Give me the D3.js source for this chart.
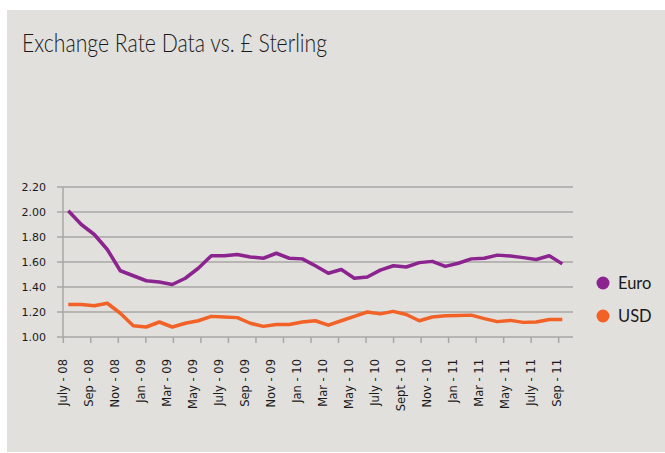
<!DOCTYPE html>
<html>
<head>
<meta charset="utf-8">
<script src="https://cdn.jsdelivr.net/npm/d3@7"></script>
<style>
  body { margin: 0; background: #ffffff; }
  svg { display: block; }
</style>
</head>
<body>
<div id="chart"></div>
<script>
// month labels, every other month is shown on the axis
var months = [
  "July - 08", "Aug - 08", "Sep - 08", "Oct - 08", "Nov - 08", "Dec - 08",
  "Jan - 09", "Feb - 09", "Mar - 09", "Apr - 09", "May - 09", "June - 09",
  "July - 09", "Aug - 09", "Sep - 09", "Oct - 09", "Nov - 09", "Dec - 09",
  "Jan - 10", "Feb - 10", "Mar - 10", "Apr - 10", "May - 10", "June - 10",
  "July - 10", "Aug - 10", "Sept - 10", "Oct - 10", "Nov - 10", "Dec - 10",
  "Jan - 11", "Feb - 11", "Mar - 11", "Apr - 11", "May - 11", "June - 11",
  "July - 11", "Aug - 11", "Sep - 11"
];

var euro = [
  2.01, 1.90, 1.82, 1.70, 1.53, 1.49, 1.45, 1.44, 1.42, 1.47,
  1.55, 1.65, 1.65, 1.66, 1.64, 1.63, 1.67, 1.63, 1.625, 1.57,
  1.51, 1.54, 1.47, 1.48, 1.535, 1.57, 1.56, 1.595, 1.605, 1.565,
  1.59, 1.625, 1.63, 1.655, 1.648, 1.635, 1.62, 1.65, 1.585
];

var usd = [
  1.26, 1.26, 1.25, 1.27, 1.19, 1.09, 1.08, 1.12, 1.08, 1.11,
  1.13, 1.165, 1.16, 1.155, 1.11, 1.085, 1.10, 1.10, 1.12, 1.13,
  1.095, 1.13, 1.165, 1.20, 1.185, 1.205, 1.18, 1.13, 1.16, 1.17,
  1.172, 1.175, 1.147, 1.123, 1.133, 1.117, 1.12, 1.14, 1.14
];

var yTicks = [1.00, 1.20, 1.40, 1.60, 1.80, 2.00, 2.20];

var seriesNames = ["Euro", "USD"];
var seriesColors = ["#8c2490", "#f26126"];

var width = 665
var height = 453

var svg = d3.select("#chart")
  .append("svg")
  .attr("width", width)
  .attr("height", height)

// grey slide panel
svg.append("rect")
  .attr("x", 7)
  .attr("y", 10)
  .attr("width", width - 7)
  .attr("height", 442)
  .attr("fill", "#e1e0dd")

svg.append("text")
  .attr("x", 22)
  .attr("y", 52)
  .attr("font-family", "Lato, 'DejaVu Sans', sans-serif")
  .attr("font-weight", 300)
  .attr("font-size", 25)
  .attr("fill", "#1a1a1a")
  .attr("textLength", 305)
  .attr("lengthAdjust", "spacingAndGlyphs")
  .text("Exchange Rate Data vs. £ Sterling")

var plotLeft = 63, plotRight = 573

var x = d3.scaleLinear()
  .domain([0, months.length - 1])
  .range([68.3, 562.3])

var y = d3.scaleLinear()
  .domain([1.0, 2.2])
  .range([337, 187])

// gridlines
svg.append("g")
  .selectAll("line")
  .data(yTicks)
  .enter()
  .append("line")
  .attr("x1", plotLeft - 6)
  .attr("x2", plotRight)
  .attr("y1", d => y(d))
  .attr("y2", d => y(d))
  .attr("stroke", "#a8a7a4")
  .attr("stroke-width", 1.5)

// y axis line
svg.append("line")
  .attr("x1", plotLeft).attr("x2", plotLeft)
  .attr("y1", y(2.2)).attr("y2", y(1.0))
  .attr("stroke", "#a8a7a4")
  .attr("stroke-width", 1.5)

svg.append("g")
  .selectAll("text")
  .data(yTicks)
  .enter()
  .append("text")
  .attr("x", 46)
  .attr("y", d => y(d) + 4)
  .attr("text-anchor", "end")
  .attr("font-family", "'DejaVu Sans', sans-serif")
  .attr("font-size", 11)
  .attr("fill", "#1a1a1a")
  .text(d => d.toFixed(2))

// x tick marks (Excel spaced them a little wider than the labels)
var tickX = d3.scaleLinear().domain([0, 18]).range([63.3, 558.7])
svg.append("g")
  .selectAll("line")
  .data(d3.range(19))
  .enter()
  .append("line")
  .attr("x1", d => tickX(d))
  .attr("x2", d => tickX(d))
  .attr("y1", y(1.0))
  .attr("y2", y(1.0) + 6)
  .attr("stroke", "#a8a7a4")
  .attr("stroke-width", 1.5)

// x labels, every second month
svg.append("g")
  .selectAll("text")
  .data(months.filter((d, i) => i % 2 == 0))
  .enter()
  .append("text")
  .attr("transform", (d, i) => "translate(" + (x(i * 2) - 1.5) + ",359) rotate(-90)")
  .attr("text-anchor", "end")
  .attr("font-family", "'DejaVu Sans', sans-serif")
  .attr("font-size", 11.5)
  .attr("fill", "#1a1a1a")
  .text(d => d)

var line = d3.line()
  .x((d, i) => x(i))
  .y(d => y(d))

var series = [euro, usd]
series.forEach((s, k) => {
  svg.append("path")
    .datum(s)
    .attr("d", line)
    .attr("fill", "none")
    .attr("stroke", seriesColors[k])
    .attr("stroke-width", 3.5)
    .attr("stroke-linejoin", "round")
})

// legend
var legend = svg.append("g")
  .selectAll("g")
  .data(seriesNames)
  .enter()
  .append("g")
  .attr("transform", (d, i) => "translate(603," + (283 + i * 33) + ")")

legend.append("circle")
  .attr("r", 6.5)
  .attr("fill", (d, i) => seriesColors[i])

legend.append("text")
  .attr("x", 15)
  .attr("y", 6)
  .attr("font-family", "Lato, 'DejaVu Sans', sans-serif")
  .attr("font-size", 16.5)
  .attr("fill", "#1a1a1a")
  .text(d => d)
</script>
</body>
</html>
